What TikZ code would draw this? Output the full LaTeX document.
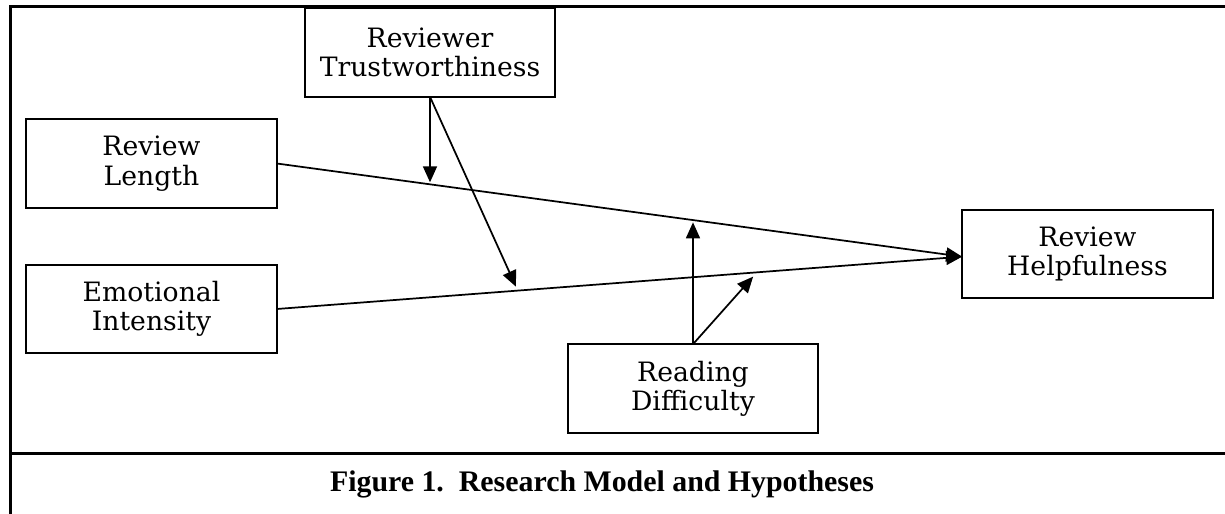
\documentclass[tikz,border=0pt]{standalone}
\usepackage{fontspec}
\setmainfont{DejaVu Serif}
\newfontfamily\capfont{Liberation Serif}
\usetikzlibrary{arrows.meta}

\tikzset{every picture/.style={line width=1.3pt}}
\tikzset{
  var/.style={draw, line width=1.5pt, minimum width=188pt, minimum height=66.5pt,
    inner sep=0pt, outer sep=0pt, align=center, font=\fontsize{20}{22}\selectfont},
  arr/.style={-{Triangle[length=12pt,width=10.5pt]}},
  frame/.style={line width=2.25pt}
}

\begin{document}
\begin{tikzpicture}[x=0.75pt,y=-0.75pt]
  \useasboundingbox (0,0) rectangle (1225,514);

  % --- le cadre ---
  \draw[frame] (10,514) -- (10,6) -- (1225,6);
  \draw[frame] (10,453) -- (1225,453);

  % --- les variables ---
  \node[var] (trust) at (430,52.5) {Reviewer\\Trustworthiness};
  \node[var] (len) at (151.5,163.5) {Review\\Length};
  \node[var] (emo) at (151.5,309) {Emotional\\Intensity};
  \node[var] (help) at (1087.5,254) {Review\\Helpfulness};
  \node[var] (read) at (693,388.5) {Reading\\Difficulty};

  % --- effets directs ---
  \coordinate (hin) at ([yshift=-2pt]help.west);
  \draw[arr] (len.east) -- (hin)
    coordinate[pos=0.2234] (m1) coordinate[pos=0.603] (m2);
  \draw[arr] (emo.east) -- (hin)
    coordinate[pos=0.349] (m3) coordinate[pos=0.695] (m4);

  % --- moderateurs ---
  \draw[arr] (trust.south) -- ([yshift=1.5pt]trust.south |- m1);
  \draw[arr] (trust.south) -- ([yshift=3pt]m3);
  \draw[arr] (read.north) -- ([yshift=-2pt]read.north |- m2);
  \draw[arr] (read.north) -- ([yshift=-3pt]m4);

  \node[font=\capfont\bfseries\fontsize{22.4}{24}\selectfont] (cap) at (602,484)
    {Figure 1.\ \ Research Model and Hypotheses};
\end{tikzpicture}
\end{document}
